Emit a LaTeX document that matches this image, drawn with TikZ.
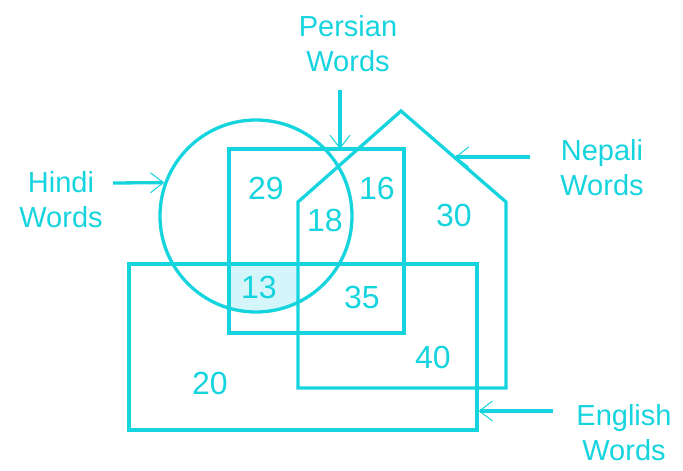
\documentclass[tikz,border=0pt]{standalone}
\usepackage{fontspec}
\setmainfont{Liberation Sans}
\usetikzlibrary{arrows.meta}
\definecolor{cy}{RGB}{22,212,222}
\definecolor{cyfill}{RGB}{212,246,250}
\tikzset{
  shapeline/.style={draw=cy, line width=3.3pt},
  lbl/.style={text=cy, font=\fontsize{29}{35}\selectfont, align=center, inner sep=0pt},
  num/.style={text=cy, font=\fontsize{32}{34}\selectfont, inner sep=0pt},
  pointer/.style={draw=cy, line width=3.3pt, -{Straight Barb[length=13pt,width=20pt,line width=1pt]}},
}
\begin{document}
\begin{tikzpicture}[x=1pt,y=-1pt]
\useasboundingbox (0,0) rectangle (683,471);
% shaded region 13
\begin{scope}
  \clip (256,216) circle (96);
  \fill[cyfill] (229,264) rectangle (298,333);
\end{scope}
% shapes
\node[shapeline, circle, minimum size=192pt, inner sep=0pt] (hindi) at (256,216) {};
\node[shapeline, rectangle, minimum width=175pt, minimum height=184pt, inner sep=0pt] (persian) at (316.5,241) {};
\node[shapeline, rectangle, minimum width=348pt, minimum height=166pt, inner sep=0pt] (english) at (303,347) {};
\draw[shapeline, line join=miter] (298,388) -- (298,202) -- (401,111) -- (506,202) -- (506,388) -- cycle;
\coordinate (nepTip) at (455,157);
\coordinate (perTip) at (340,149);
% labels
\node[lbl] (hindiL) at (61,200) {Hindi\\Words};
\node[lbl] (persianL) at (348,44) {Persian\\Words};
\node[lbl] (nepaliL) at (602,168) {Nepali\\Words};
\node[lbl] (englishL) at (624,433) {English\\Words};
\coordinate (hS) at (113,183);
\coordinate (pS) at (340,90);
\coordinate (nS) at (530,157);
\coordinate (eS) at (553,411);
\draw[pointer] (hS) -- (hindi.160);
\draw[pointer] (pS) -- (perTip);
\draw[pointer] (nS) -- (nepTip);
\draw[pointer] (eS) -- (english.east |- eS);
% numbers
\node[num] (n29) at (266,188) {29};
\node[num] (n16) at (377,188) {16};
\node[num] (n18) at (325,220) {18};
\node[num] (n30) at (454,215) {30};
\node[num] (n13) at (259,287) {13};
\node[num] (n35) at (362,297) {35};
\node[num] (n40) at (433,357) {40};
\node[num] (n20) at (210,383) {20};
\end{tikzpicture}
\end{document}
